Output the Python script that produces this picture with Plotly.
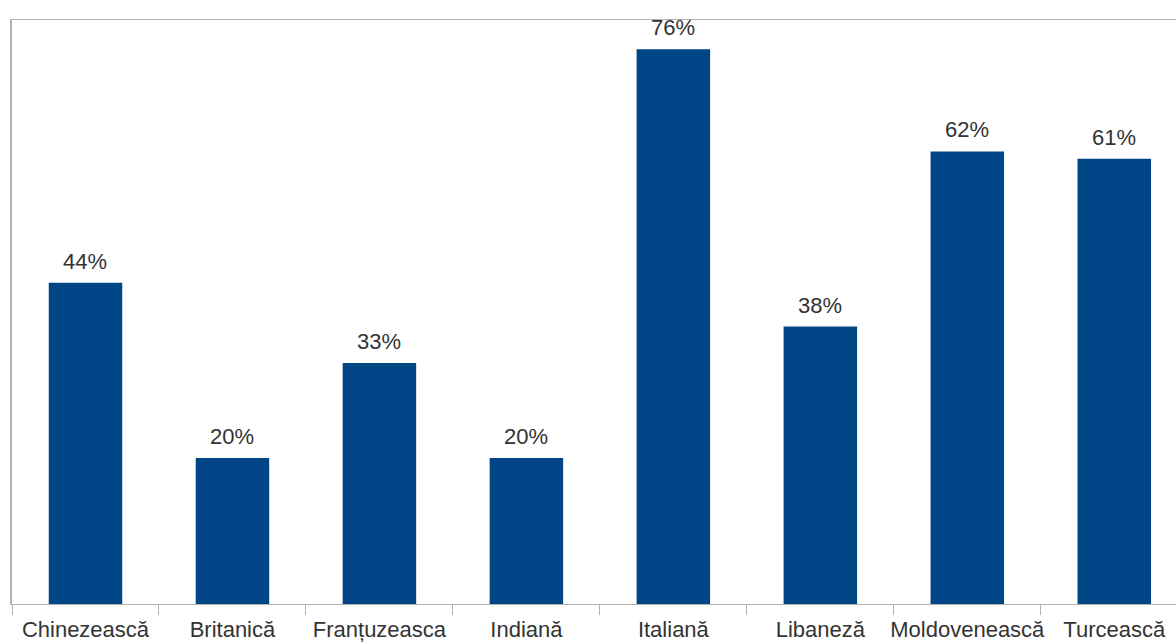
import plotly.graph_objects as go

# Preferred cuisines, share of respondents (%)
categories = ["Chinezească", "Britanică", "Franțuzeasca", "Indiană",
              "Italiană", "Libaneză", "Moldovenească", "Turcească"]
values = [44, 20, 33, 20, 76, 38, 62, 61]
labels = [f"{v}%" for v in values]

FONT = "Liberation Sans, Arial, sans-serif"
TEXT_SIZE = 22

fig = go.Figure(
    go.Bar(
        x=categories,
        y=values,
        marker=dict(color="#004586", line=dict(width=0)),
        width=0.5,
        cliponaxis=False,
    )
)

# value labels above each bar
for cat, val, lab in zip(categories, values, labels):
    fig.add_annotation(
        x=cat, y=val, text=lab,
        showarrow=False, yanchor="bottom", yshift=7,
        font=dict(family=FONT, size=TEXT_SIZE, color="#333333"),
    )

fig.update_layout(
    width=1176,
    height=644,
    margin=dict(l=12, r=0, t=20, b=40),
    paper_bgcolor="white",
    plot_bgcolor="white",
    showlegend=False,
    font=dict(family=FONT, size=TEXT_SIZE, color="#333333"),
)

fig.update_xaxes(
    range=[-0.5, 7.42],
    showline=True,
    linecolor="#b3b3b3",
    linewidth=1,
    mirror=True,
    ticks="outside",
    tickson="boundaries",
    ticklen=10,
    tickcolor="#b3b3b3",
    tickangle=0,
    ticklabelstandoff=6,
    automargin=False,
    showgrid=False,
    tickfont=dict(family=FONT, size=TEXT_SIZE, color="#333333"),
)

fig.update_yaxes(
    range=[0, 80],
    showline=True,
    linecolor="#b3b3b3",
    linewidth=2,
    showticklabels=False,
    ticks="",
    showgrid=False,
    zeroline=False,
    automargin=False,
)

fig.write_html("out.html")
